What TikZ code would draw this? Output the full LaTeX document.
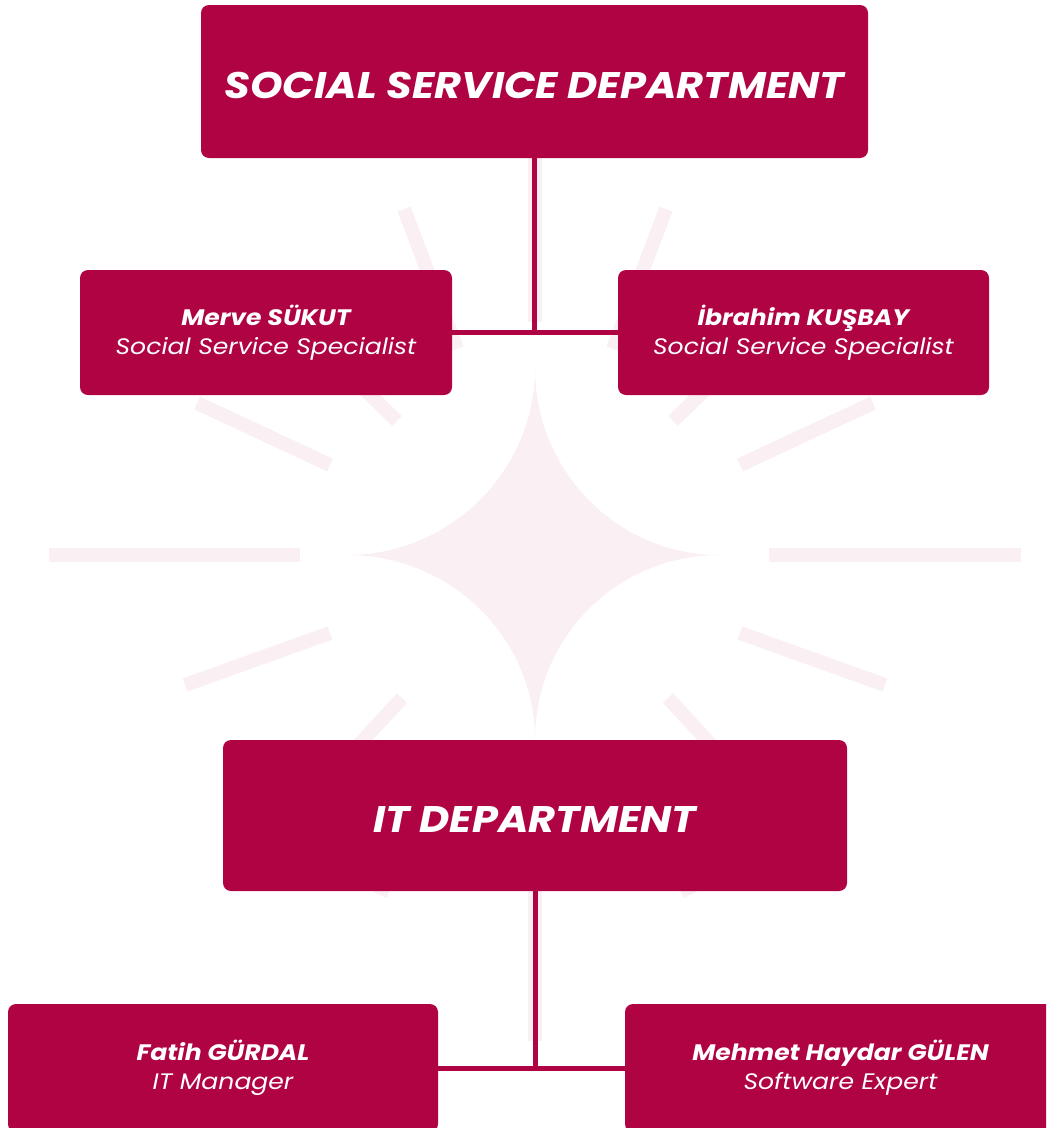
\documentclass[tikz,border=0pt]{standalone}
\usepackage{fontspec}
\setmainfont{Poppins}[FakeStretch=1.12]
\definecolor{crimson}{RGB}{176,3,68}
\definecolor{blush}{RGB}{250,240,243}
\begin{document}
\begin{tikzpicture}[x=0.75pt,y=-0.75pt]
        \tikzstyle{ray}=[draw=blush,line width=10.5pt]
        \tikzstyle{dept}=[fill=crimson,text=white,rounded corners=6pt,inner sep=0pt,
            text height=26pt,text depth=0pt,font=\fontsize{27.75}{30}\selectfont\bfseries\itshape]
        \tikzstyle{person}=[fill=crimson,text=white,rounded corners=6pt,inner sep=0pt,
            align=center,minimum height=93.75pt,font=\fontsize{16.8}{21.75}\selectfont\itshape]
        \tikzstyle{link}=[draw=crimson,line width=3.75pt]
        \useasboundingbox (0,0) rectangle (1046,1128);
        \clip (0,0) rectangle (1046,1128);
        % background burst
        \draw[ray] (49,555) -- (300,555) (769,555) -- (1021,555);
        \draw[ray] (535,69) -- (535,322) (535,788) -- (535,1041);
        \draw[ray] (404,209) -- (457,349) (666,209) -- (613,349);
        \draw[ray] (380,895) -- (444,755) (690,895) -- (626,755);
        \draw[ray] (320,346) -- (397,421) (750,346) -- (673,421);
        \draw[ray] (331,775) -- (402,698) (739,775) -- (668,698);
        \draw[ray] (197,403) -- (330,465) (873,403) -- (740,465);
        \draw[ray] (185,685) -- (330,633) (885,685) -- (740,633);
        \fill[blush] (535,368) .. controls (535,471) and (450,555) .. (347,555)
            .. controls (450,555) and (535,637) .. (535,740)
            .. controls (535,637) and (617,555) .. (720,555)
            .. controls (617,555) and (535,471) .. cycle;
        % boxes
        \node[dept,minimum width=500.25pt,minimum height=114.75pt] (ssd) at (534.5,81.5) {SOCIAL SERVICE DEPARTMENT};
        \node[person,minimum width=279pt] (merve) at (266,332.5) {\textbf{Merve SÜKUT}\\Social Service Specialist};
        \node[person,minimum width=278.25pt] (ibrahim) at (803.5,332.5) {\textbf{İbrahim KUŞBAY}\\Social Service Specialist};
        \node[dept,minimum width=468pt,minimum height=113.25pt] (it) at (535,815.5) {IT DEPARTMENT};
        \node[person,minimum width=322.5pt,minimum height=96pt] (fatih) at (223,1068) {\textbf{Fatih GÜRDAL}\\IT Manager};
        \node[person,minimum width=323.25pt,minimum height=96pt] (mehmet) at (840.5,1068) {\textbf{Mehmet Haydar GÜLEN}\\Software Expert};
        % links
        \draw[link] (ssd.south) -- (ssd.south |- merve.east);
        \draw[link] (merve.east) -- (ibrahim.west);
        \draw[link] (it.south) -- (it.south |- fatih.east);
        \draw[link] (fatih.east) -- (mehmet.west);
    \end{tikzpicture}
\end{document}
